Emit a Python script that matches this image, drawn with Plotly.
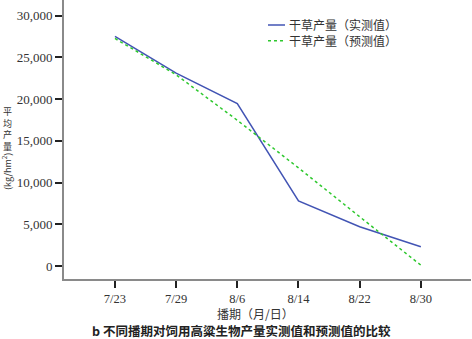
import plotly.graph_objects as go

categories = ["7/23", "7/29", "8/6", "8/14", "8/22", "8/30"]
measured = [27500, 23100, 19450, 7800, 4700, 2300]
predicted = [27250, 22900, 17450, 11750, 5900, 100]
y_ticks = [0, 5000, 10000, 15000, 20000, 25000, 30000]
legend_names = ["干草产量（实测值）", "干草产量（预测值）"]
y_title_chars = ["平", "均", "产", "量"]
y_title_unit = "(kg/hm<sup>2</sup>)"

BLUE = "#4254b4"
GREEN = "#2ec82e"
SERIF = "Liberation Serif, Noto Sans CJK SC, serif"
CJK = "Noto Sans CJK SC, sans-serif"

fig = go.Figure()
fig.add_trace(go.Scatter(x=categories, y=measured, mode="lines", name=legend_names[0],
                         line=dict(color=BLUE, width=1.5), showlegend=False))
fig.add_trace(go.Scatter(x=categories, y=predicted, mode="lines", name=legend_names[1],
                         line=dict(color=GREEN, width=1.5, dash="dot"), showlegend=False))

W, H = 472, 339
L, R, T, B = 64, 1, 0, 60
PW, PH = W - L - R, H - T - B


def px(x):
    return (x - L) / PW


def py(y):
    return 1 - (y - T) / PH


fig.update_layout(
    width=W, height=H,
    margin=dict(l=L, r=R, t=T, b=B, autoexpand=False),
    paper_bgcolor="white", plot_bgcolor="white",
    xaxis=dict(type="category", range=[-0.833, 5.82], showgrid=False, zeroline=False,
               automargin=False,
               showline=True, linecolor="#8a8a8a", linewidth=2,
               ticks="outside", ticklen=7, tickwidth=1.5, tickcolor="#222",
               tickfont=dict(family=SERIF, size=12.5, color="#333")),
    yaxis=dict(range=[-1557, 31856], showgrid=False, zeroline=False,
               automargin=False,
               showline=True, linecolor="#8a8a8a", linewidth=2,
               tickvals=y_ticks, tickformat=",d",
               ticks="outside", ticklen=7, tickwidth=1.5, tickcolor="#222",
               tickfont=dict(family=SERIF, size=13, color="#333")),
    font=dict(family=CJK, color="#333"),
)

# legend (manual)
for i, (name, color, dash) in enumerate([(legend_names[0], BLUE, "solid"), (legend_names[1], GREEN, "dot")]):
    yy = 25 + i * 15.7
    fig.add_shape(type="line", xref="paper", yref="paper",
                  x0=px(268), x1=px(285), y0=py(yy), y1=py(yy),
                  line=dict(color=color, width=1.5, dash=dash))
    fig.add_annotation(text=name, xref="paper", yref="paper", showarrow=False,
                       x=px(287), y=py(yy), xanchor="left", yanchor="middle",
                       font=dict(family=CJK, size=12, color="#333"))

# y title: upright CJK chars stacked, then rotated unit
fig.add_annotation(text="<br>".join(y_title_chars), xref="paper", yref="paper", showarrow=False,
                   x=px(7), y=py(104), xanchor="center", yanchor="top", align="center",
                   borderpad=0, font=dict(family=CJK, size=9, color="#333"))
fig.add_annotation(text=y_title_unit, xref="paper", yref="paper", showarrow=False,
                   x=px(7), y=py(172), xanchor="center", yanchor="middle", textangle=-90,
                   borderpad=0, font=dict(family=CJK, size=9, color="#333"))

# x title
fig.add_annotation(text="播期（月/日）", xref="paper", yref="paper", showarrow=False,
                   x=px(255), y=py(313.5), xanchor="center", yanchor="middle", borderpad=0,
                   font=dict(family=CJK, size=12, color="#333"))
# caption
fig.add_annotation(text="<b>b 不同播期对饲用高粱生物产量实测值和预测值的比较</b>", xref="paper", yref="paper",
                   showarrow=False, x=px(91), y=py(330.8), xanchor="left", yanchor="middle",
                   borderpad=0, font=dict(family=CJK, size=12.5, color="#222"))

fig.write_html("out.html", config={"displayModeBar": False},
               post_script="document.body.style.margin='0';document.body.style.overflow='hidden';")
